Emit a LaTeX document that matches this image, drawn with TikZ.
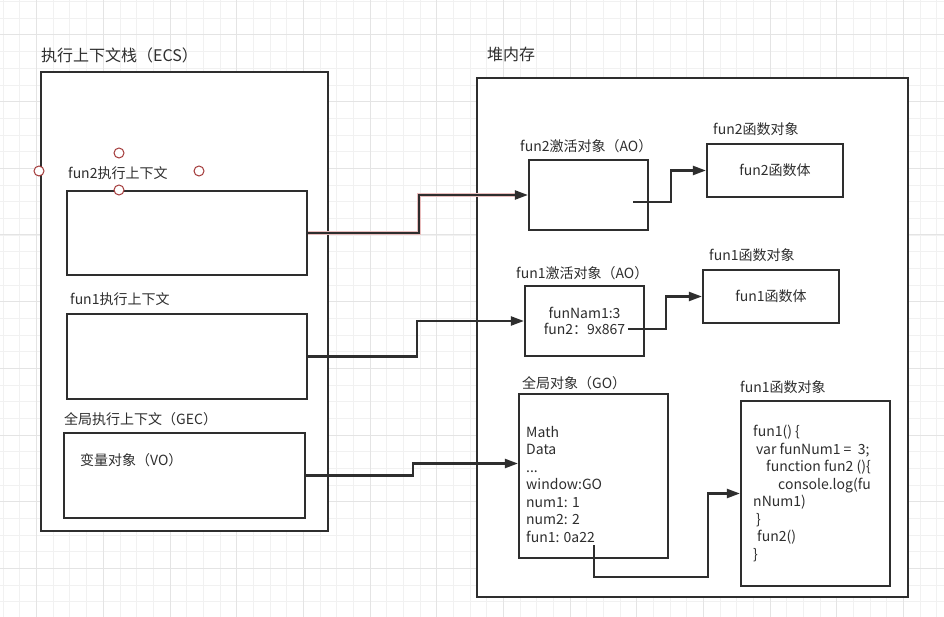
\documentclass[tikz,border=0pt]{standalone}
\usepackage{fontspec}
\setmainfont{Noto Sans CJK SC}
\usetikzlibrary{positioning, arrows.meta}
\definecolor{ink}{HTML}{2E2E2E}
\definecolor{gridminor}{HTML}{F1F1F1}
\definecolor{gridmajor}{HTML}{E4E4E4}
\definecolor{handlered}{HTML}{A33A3A}
\definecolor{halored}{HTML}{E9BDBD}
\tikzset{
    box/.style={draw=ink, line width=2.2pt, fill=white, inner sep=0pt, text=ink, font=\fontsize{14}{16.5}\selectfont, align=center},
    lbl/.style={anchor=west, inner sep=0pt, text=ink, font=\fontsize{14}{17.5}\selectfont},
    title/.style={lbl, font=\fontsize{16}{19}\selectfont},
    link/.style={draw=ink, line width=2.2pt, -{Triangle[length=13pt,width=9pt]}},
    handle/.style={circle, draw=handlered, fill=white, line width=1pt, minimum size=10pt, inner sep=0pt},
}

\begin{document}
\begin{tikzpicture}[x=1pt, y=-1pt]
    \useasboundingbox [fill=white] (0,0) rectangle (944,617);
    \foreach \i in {0,...,56} \draw [gridminor, line width=1pt] ({3.33+16.667*\i},0) -- ++(0,617);
    \foreach \i in {0,...,37} \draw [gridminor, line width=1pt] (0,{1.67+16.667*\i}) -- ++(944,0);
    \foreach \i in {0,...,13} \draw [gridmajor, line width=1pt] ({36.67+66.667*\i},0) -- ++(0,617);
    \foreach \i in {0,...,8} \draw [gridmajor, line width=1pt] (0,{35+66.667*\i}) -- ++(944,0);

    % execution context stack
    \node (ecsT) [title] at (41,55) {执行上下文栈（ECS）};
    \node (ecs) [box, minimum width=287pt, minimum height=459pt] at (184.5,301.5) {};
    \node (f2ctxT) [lbl] at (68,173) {fun2执行上下文};
    \node (f2ctx) [box, minimum width=240pt, minimum height=84pt] at (187,233) {};
    \node (f1ctxT) [lbl] at (70,299) {fun1执行上下文};
    \node (f1ctx) [box, minimum width=240pt, minimum height=85pt] at (187,356.5) {};
    \node (gecT) [lbl] at (64,419) {全局执行上下文（GEC）};
    \node (gec) [box, minimum width=241pt, minimum height=85pt] at (184.5,475.5) {};
    \node (vo) [lbl] at (80,460) {变量对象（VO）};
    \foreach \p [count=\i] in {(119,153), (39,171), (199,171), (119,190)}
        \node (h\i) [handle] at \p {};

    % heap
    \node (heapT) [title] at (487,54) {堆内存};
    \node (heap) [box, minimum width=431pt, minimum height=519pt] at (692.5,337.5) {};
    \node (ao2T) [lbl] at (520,146) {fun2激活对象（AO）};
    \node (ao2) [box, minimum width=119pt, minimum height=70pt] at (588.5,195) {};
    \node (fn2T) [lbl] at (713,129) {fun2函数对象};
    \node (fn2) [box, minimum width=136pt, minimum height=53pt] at (775,170.5) {fun2函数体};
    \node (ao1T) [lbl] at (516,273) {fun1激活对象（AO）};
    \node (ao1) [box, minimum width=119pt, minimum height=70pt] at (584.5,321) {funNam1:3\\fun2：9x867};
    \node (fn1T) [lbl] at (709,255) {fun1函数对象};
    \node (fn1) [box, minimum width=136pt, minimum height=53pt] at (771,296.5) {fun1函数体};
    \node (goT) [lbl] at (522,383) {全局对象（GO）};
    \node (go) [box, minimum width=149pt, minimum height=164pt] at (593.5,476) {};
    \node (goVars) [lbl, align=left] at (526,484.2) {Math\\Data\\...\\window:GO\\num1: 1\\num2: 2\\fun1: 0a22};
    \node (fnbT) [lbl] at (740,387) {fun1函数对象};
    \node (fnb) [box, minimum width=149pt, minimum height=185pt] at (815.5,493.5) {};
    \node (fnbCode) [lbl, align=left] at (753,493.3) {fun1() \{\\\hspace*{3pt}var funNum1 =\ \ 3;\\\hspace*{13pt}function fun2 ()\{\\\hspace*{25pt}console.log(fu\\nNum1)\\\hspace*{3pt}\}\\\hspace*{4pt}fun2()\\\}};

    \coordinate (ao2out) at (633,202);
    \coordinate (ao1out) at (628,329);
    \coordinate (goout) at (594,545);

    \draw [halored, line width=4.5pt] (f2ctx.east) -- ++(111,0) |- ([xshift=-12pt]ao2.west);
    \draw [link] (f2ctx.east) -- ++(111,0) |- (ao2.west);
    \draw [link] (f1ctx.east) -- ++(109,0) |- (ao1.west);
    \draw [link] (gec.east) -- ++(107,0) |- ([yshift=12.5pt]go.west);
    \draw [link] (ao2out) -- ++(38,0) |- (fn2.west);
    \draw [link] (ao1out) -- ++(38,0) |- (fn1.west);
    \draw [link] (goout) -- ++(0,32) -- ++(114,0) |- (fnb.west);
\end{tikzpicture}
\end{document}
